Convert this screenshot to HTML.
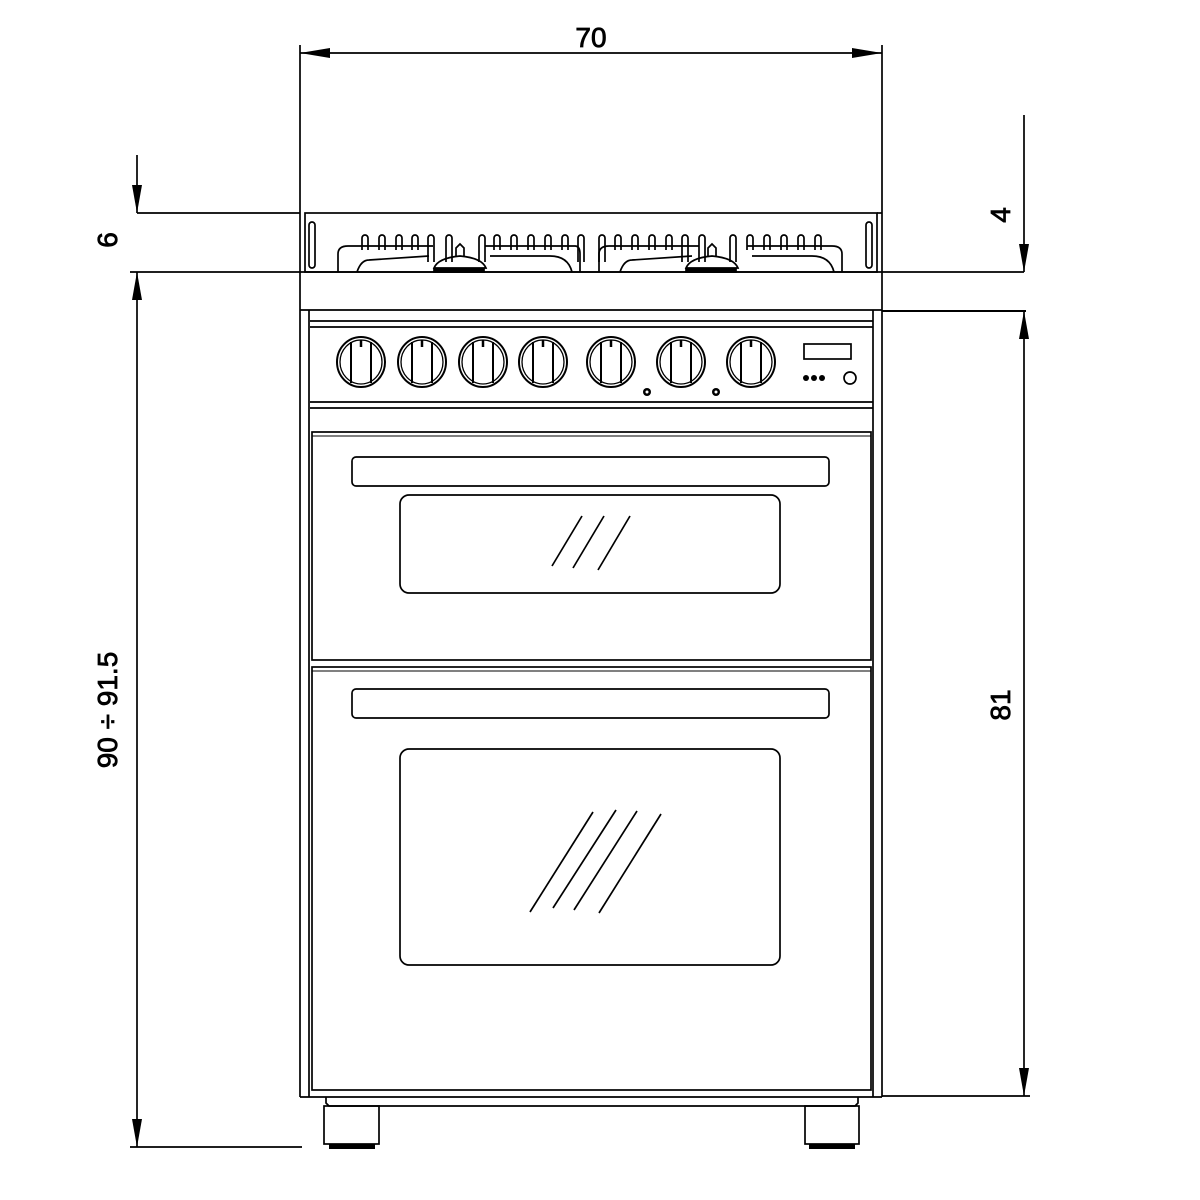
<!DOCTYPE html>
<html><head><style>html,body{margin:0;padding:0;background:#fff}svg{display:block}</style></head>
<body>
<svg width="1200" height="1200" viewBox="0 0 1200 1200" xmlns="http://www.w3.org/2000/svg" font-family="Liberation Sans, sans-serif">
<g stroke="#000" stroke-width="1.7" fill="none">
<line x1="300" y1="53" x2="882" y2="53"/>
<line x1="300" y1="45" x2="300" y2="1097"/>
<line x1="882" y1="45" x2="882" y2="1097"/>
<line x1="137" y1="155" x2="137" y2="213"/>
<line x1="137" y1="213" x2="300" y2="213"/>
<line x1="130" y1="272" x2="1024" y2="272"/>
<line x1="137" y1="272" x2="137" y2="1147"/>
<line x1="130" y1="1147" x2="302" y2="1147"/>
<line x1="1024" y1="115" x2="1024" y2="272"/>
<line x1="882" y1="311" x2="1026" y2="311" stroke-width="2"/>
<line x1="1024" y1="311" x2="1024" y2="1096"/>
<line x1="882" y1="1096" x2="1030" y2="1096"/>
<line x1="877" y1="213" x2="882" y2="213"/>
</g>
<g fill="#000">
<polygon points="300,53 330,48 330,58"/>
<polygon points="882,53 852,48 852,58"/>
<polygon points="137,213 132,185 142,185"/>
<polygon points="137,272 132,300 142,300"/>
<polygon points="137,1147 132,1119 142,1119"/>
<polygon points="1024,272 1019,244 1029,244"/>
<polygon points="1024,311 1019,339 1029,339"/>
<polygon points="1024,1096 1019,1068 1029,1068"/>
</g>
<g font-size="28" fill="#000" text-anchor="middle" stroke="#000" stroke-width="0.8">
<text x="591" y="47">70</text>
<text transform="translate(117,240) rotate(-90)">6</text>
<text transform="translate(117,710) rotate(-90)">90 ÷ 91.5</text>
<text transform="translate(1010,215) rotate(-90)">4</text>
<text transform="translate(1010,705) rotate(-90)">81</text>
</g>
<g stroke="#000" stroke-width="1.7" fill="none">
<rect x="305" y="213" width="572" height="59"/>
<rect x="309" y="222" width="6" height="46" rx="3"/>
<rect x="866" y="222" width="6" height="46" rx="3"/>
<path d="M362,250 v-12 a3,3 0 0 1 6,0 v12 M379,250 v-12 a3,3 0 0 1 6,0 v12 M396,250 v-12 a3,3 0 0 1 6,0 v12 M412,250 v-12 a3,3 0 0 1 6,0 v12 M428,262 v-24 a3,3 0 0 1 6,0 v24 M446,262 v-24 a3,3 0 0 1 6,0 v24 M479,262 v-24 a3,3 0 0 1 6,0 v24 M494,250 v-12 a3,3 0 0 1 6,0 v12 M511,250 v-12 a3,3 0 0 1 6,0 v12 M528,250 v-12 a3,3 0 0 1 6,0 v12 M545,250 v-12 a3,3 0 0 1 6,0 v12 M562,250 v-12 a3,3 0 0 1 6,0 v12 M578,262 v-24 a3,3 0 0 1 6,0 v24"/>
<path d="M599,262 v-24 a3,3 0 0 1 6,0 v24 M615,250 v-12 a3,3 0 0 1 6,0 v12 M632,250 v-12 a3,3 0 0 1 6,0 v12 M649,250 v-12 a3,3 0 0 1 6,0 v12 M666,250 v-12 a3,3 0 0 1 6,0 v12 M682,262 v-24 a3,3 0 0 1 6,0 v24 M699,262 v-24 a3,3 0 0 1 6,0 v24 M730,262 v-24 a3,3 0 0 1 6,0 v24 M747,250 v-12 a3,3 0 0 1 6,0 v12 M764,250 v-12 a3,3 0 0 1 6,0 v12 M781,250 v-12 a3,3 0 0 1 6,0 v12 M798,250 v-12 a3,3 0 0 1 6,0 v12 M815,250 v-12 a3,3 0 0 1 6,0 v12"/>
<path d="M338,272 v-18 q0,-8 10,-8 h85"/>
<path d="M357,272 q4,-12 12,-12 l60,-4"/>
<path d="M485,246 h90 q5,0 5,8 v18"/>
<path d="M490,256 h60 q18,0 22,16"/>
<path d="M599,272 v-18 q0,-8 10,-8 h90"/>
<path d="M620,272 q4,-12 12,-12 l60,-4"/>
<path d="M747,246 h85 q10,0 10,8 v18"/>
<path d="M752,256 h60 q18,0 22,16"/>
<path d="M434,268 q4,-10 26,-12 q22,2 26,12 z"/>
<path d="M456,256 v-8 l4,-4 l4,4 v8"/>
<path d="M434,272 h50 v-3 h-50z" fill="#000"/>
<path d="M686,268 q4,-10 26,-12 q22,2 26,12 z"/>
<path d="M708,256 v-8 l4,-4 l4,4 v8"/>
<path d="M686,272 h50 v-3 h-50z" fill="#000"/>
<line x1="300" y1="310" x2="882" y2="310"/>
<line x1="309" y1="310" x2="309" y2="1097"/>
<line x1="873" y1="310" x2="873" y2="1097"/>
<line x1="300" y1="1097" x2="882" y2="1097"/>
<line x1="310" y1="321" x2="873" y2="321"/>
<line x1="310" y1="327" x2="873" y2="327"/>
<line x1="310" y1="402" x2="873" y2="402"/>
<line x1="310" y1="408" x2="873" y2="408"/>
<g id="k" stroke-width="2">
<ellipse cx="361" cy="362" rx="24" ry="25"/>
<ellipse cx="361" cy="362" rx="21" ry="22" stroke-width="1.3"/>
<line x1="351" y1="342" x2="351" y2="383"/>
<line x1="371" y1="342" x2="371" y2="383"/>
<line x1="361" y1="340" x2="361" y2="347" stroke-width="2.5"/>
</g>
<use href="#k" x="61"/><use href="#k" x="122"/><use href="#k" x="182"/><use href="#k" x="250"/><use href="#k" x="320"/><use href="#k" x="390"/>
<rect x="804" y="344" width="47" height="15"/>
<circle cx="850" cy="378" r="6"/>
</g>
<g fill="#000">
<circle cx="806" cy="378" r="3"/><circle cx="814" cy="378" r="3"/><circle cx="822" cy="378" r="3"/>
<circle cx="647" cy="392" r="4"/><circle cx="716" cy="392" r="4"/>
</g>
<g fill="#fff"><circle cx="647" cy="392" r="1.5"/><circle cx="716" cy="392" r="1.5"/></g>
<g stroke="#000" stroke-width="1.7" fill="none">
<rect x="312" y="432" width="559" height="228"/>
<line x1="312" y1="436" x2="871" y2="436" stroke-width="1"/>
<rect x="352" y="457" width="477" height="29" rx="4"/>
<rect x="400" y="495" width="380" height="98" rx="9"/>
<line x1="582" y1="516" x2="552" y2="566"/>
<line x1="604" y1="516" x2="573" y2="568"/>
<line x1="630" y1="516" x2="598" y2="570"/>
<rect x="312" y="667" width="559" height="423"/>
<line x1="312" y1="671" x2="871" y2="671" stroke-width="1"/>
<rect x="352" y="689" width="477" height="29" rx="4"/>
<rect x="400" y="749" width="380" height="216" rx="9"/>
<line x1="593" y1="812" x2="530" y2="912"/>
<line x1="616" y1="810" x2="553" y2="908"/>
<line x1="637" y1="811" x2="574" y2="910"/>
<line x1="661" y1="814" x2="599" y2="913"/>
<path d="M326,1097 v6 l3,3 h526 l3,-3 v-6"/>
<rect x="324" y="1106" width="55" height="38"/>
<rect x="805" y="1106" width="54" height="38"/>
</g>
<g fill="#000">
<rect x="329" y="1144" width="46" height="5"/>
<rect x="809" y="1144" width="46" height="5"/>
</g>
</svg>
</body></html>
